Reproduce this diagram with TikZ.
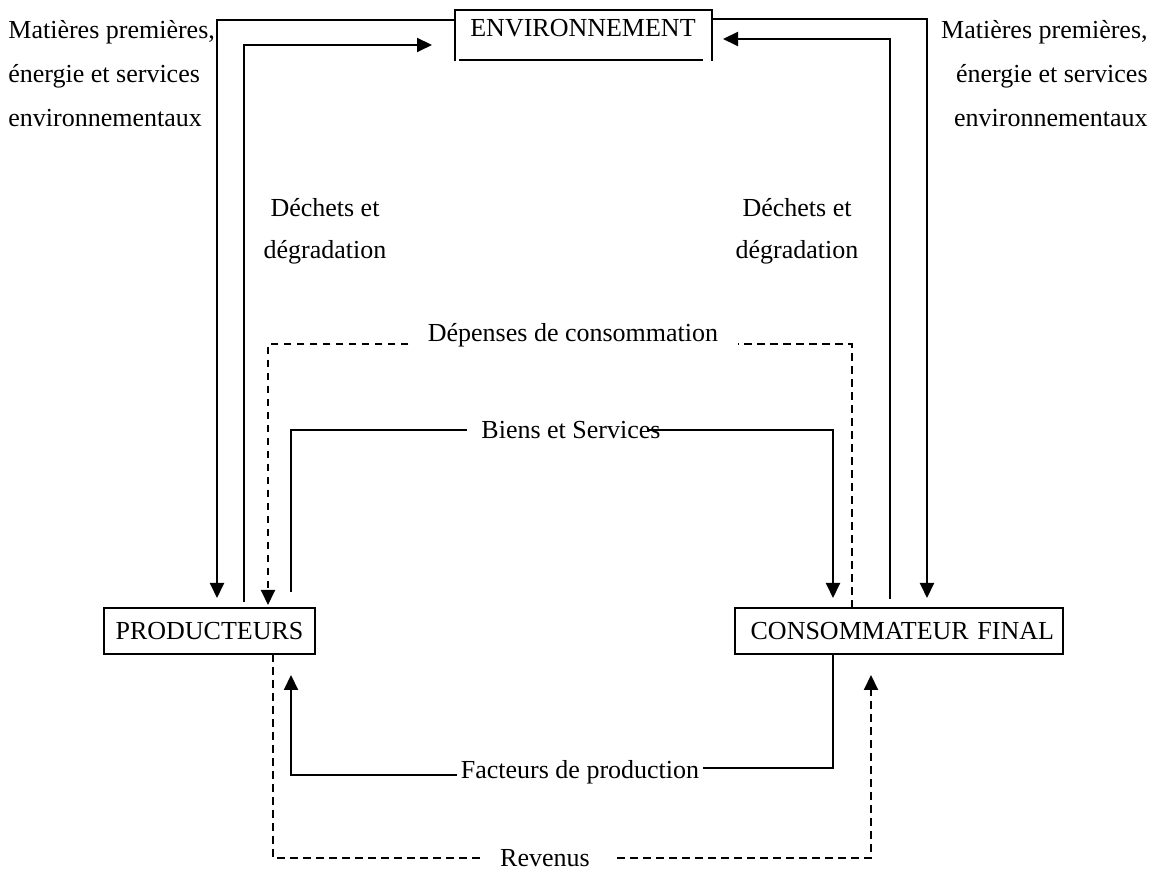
\documentclass[tikz,border=0pt]{standalone}
\usepackage{fontspec}
\setmainfont{Liberation Serif}
\usetikzlibrary{arrows.meta}
\begin{document}
\begin{tikzpicture}[x=0.5pt,y=-0.5pt,
  every node/.style={font=\fontsize{13}{22}\selectfont, inner sep=0pt},
  line/.style={line width=1pt},
  arr/.style={line width=1pt, -{Triangle[length=7.5pt,width=7pt]}},
  dsh/.style={dash pattern=on 3.8pt off 2.7pt},
  boxnode/.style={draw, line width=1pt, minimum height=23pt}
]
\useasboundingbox (0,0) rectangle (1152,870);

% boxes
\node[minimum width=128.5pt, minimum height=25.5pt] (env) at (583.5,35.5) {};
\node (envt) at (583,28) {ENVIRONNEMENT};
\draw[line] (env.south west) -- (env.north west) -- (env.north east) -- (env.south east);
\draw[line] ([xshift=2pt,yshift=0.5pt]env.south west) -- ([xshift=-4.5pt,yshift=0.5pt]env.south east);

\node[boxnode, minimum width=105.5pt] (prod) at (209.5,631) {PRODUCTEURS};
\node[boxnode, minimum width=164pt, align=right, text width=155pt] (cons) at (899,631) {CONSOMMATEUR FINAL};

% labels
\node[align=left, anchor=west] (matL) at (8,74) {Matières premières,\\énergie et services\\environnementaux};
\node[align=right, anchor=east] (matR) at (1148,74) {Matières premières,\\énergie et services\\environnementaux};
\node[align=center, font=\fontsize{13}{21}\selectfont] (dechL) at (325,231) {Déchets et\\dégradation};
\node[align=center, font=\fontsize{13}{21}\selectfont] (dechR) at (797,231) {Déchets et\\dégradation};
\node[anchor=base, inner xsep=9.5pt] (dep) at (573,342) {Dépenses de consommation};
\node[inner xsep=7pt] (bs) at (571,430) {Biens et Services};
\node[inner xsep=1.5pt] (fac) at (580,772) {Facteurs de production};
\node[] (rev) at (545,858) {Revenus};

% connector end points
\coordinate (pInMat) at (217,598);
\coordinate (pOutDech) at (244,602);
\coordinate (pInDep) at (268,605);
\coordinate (pOutBS) at (291,592);
\coordinate (pOutRev) at (273,654);
\coordinate (pInFac) at (291,675);
\coordinate (cInBS) at (833,598);
\coordinate (cOutDep) at (852,608);
\coordinate (cOutDech) at (890,599);
\coordinate (cInMat) at (927,598);
\coordinate (cOutFac) at (833,654);
\coordinate (cInRev) at (871,675);
\coordinate (eInL) at (432,45);
\coordinate (eInR) at (723,39);

% environment flows
\draw[arr] (env.west |- 0,20) -| (pInMat);
\draw[arr] (pOutDech) |- (eInL);
\draw[arr] (env.east |- 0,19) -| (cInMat);
\draw[arr] (cOutDech) |- (eInR);

% Dépenses de consommation (dashed)
\draw[line,dsh] (cOutDep) |- ([yshift=-1pt]dep.base east);
\draw[arr,dsh] ([yshift=-1pt]dep.base west) -| (pInDep);

% Biens et Services
\draw[line] (pOutBS) |- (bs.west);
\draw[arr] ([xshift=-14pt]bs.east) -| (cInBS);

% Facteurs de production
\draw[line] (cOutFac) |- (fac.east |- 0,768);
\draw[arr] (fac.west |- 0,775) -| (pInFac);

% Revenus (dashed)
\draw[line,dsh] (pOutRev) |- ([xshift=-9.5pt]rev.west);
\draw[arr,dsh] ([xshift=13.5pt]rev.east) -| (cInRev);
\end{tikzpicture}
\end{document}
